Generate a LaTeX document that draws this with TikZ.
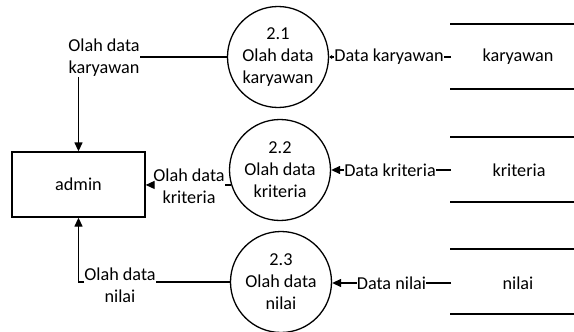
\documentclass[tikz,border=0pt]{standalone}
\usepackage{fontspec}
\setmainfont{Carlito}
\usetikzlibrary{arrows.meta}
\begin{document}
\begin{tikzpicture}[x=1pt,y=-1pt,
  every node/.style={font=\fontsize{18.2}{22}\selectfont},
  proc/.style={circle,draw,line width=1.3pt,minimum size=101pt,inner sep=0pt,align=center},
  lbl/.style={inner sep=0pt,align=center},
  flow/.style={line width=1.3pt},
  arr/.style={flow,-{Triangle[length=9pt,width=8pt]}},
  sarr/.style={flow,-{Triangle[length=3pt,width=4pt]}},
  ent/.style={draw,line width=1.3pt,minimum width=133pt,minimum height=65pt,inner sep=0pt},
  storeline/.style={line width=1.3pt}]
\useasboundingbox (0,0) rectangle (574,332);
% external entity
\node[ent] (admin) at (78.5,184.5) {admin};
% processes
\node[proc] (p1) at (278,57) {2.1\\Olah data\\karyawan};
\node[proc] (p2) at (280,170) {2.2\\Olah data\\kriteria};
\node[proc] (p3) at (281,282) {2.3\\Olah data\\nilai};
% data stores
\draw[storeline] (450,24) -- (574,24) (450,89) -- (574,89);
\draw[storeline] (450,137) -- (574,137) (450,202) -- (574,202);
\draw[storeline] (450,249) -- (574,249) (450,314) -- (574,314);
\node (s1) at (518,57) {karyawan};
\node (s2) at (519,170) {kriteria};
\node (s3) at (518,283) {nilai};
\coordinate (s1w) at (451,57);
\coordinate (s2w) at (451,170);
\coordinate (s3w) at (451,283);
% flow labels right
\node[lbl] (d1) at (389,57) {Data karyawan};
\node[lbl] (d2) at (390,170) {Data kriteria};
\node[lbl] (d3) at (391.5,283) {Data nilai};
\draw[flow] (s1w) -- (d1.east);
\draw[sarr] (d1.west) -- (p1.east |- d1.west);
\draw[flow] (s2w) -- (d2.east);
\draw[arr] (d2.west) -- (p2.east |- d2.west);
\draw[flow] (s3w) -- (d3.east);
\draw[arr] (d3.west) -- (p3.east |- d3.west);
% flow labels left
\node[lbl] (l1) at (104,58) {Olah data\\karyawan};
\node[lbl] (l2) at (189,186) {Olah data\\kriteria};
\node[lbl] (l3) at (120,285) {Olah data\\nilai};
\draw[flow] (p1.west) -- (p1.west -| l1.east);
\draw[arr] (admin.north |- l1.south) -- (admin.north);
\draw[flow] (p2.197) -- (l2.east |- p2.197);
\draw[arr] (l2.west |- p2.197) -- (admin.east |- p2.197);
\draw[flow] (p3.west) -- (p3.west -| l3.east);
\draw[arr] (l3.west |- p3.west) -- (admin.south |- p3.west) -- (admin.south);
\end{tikzpicture}
\end{document}
